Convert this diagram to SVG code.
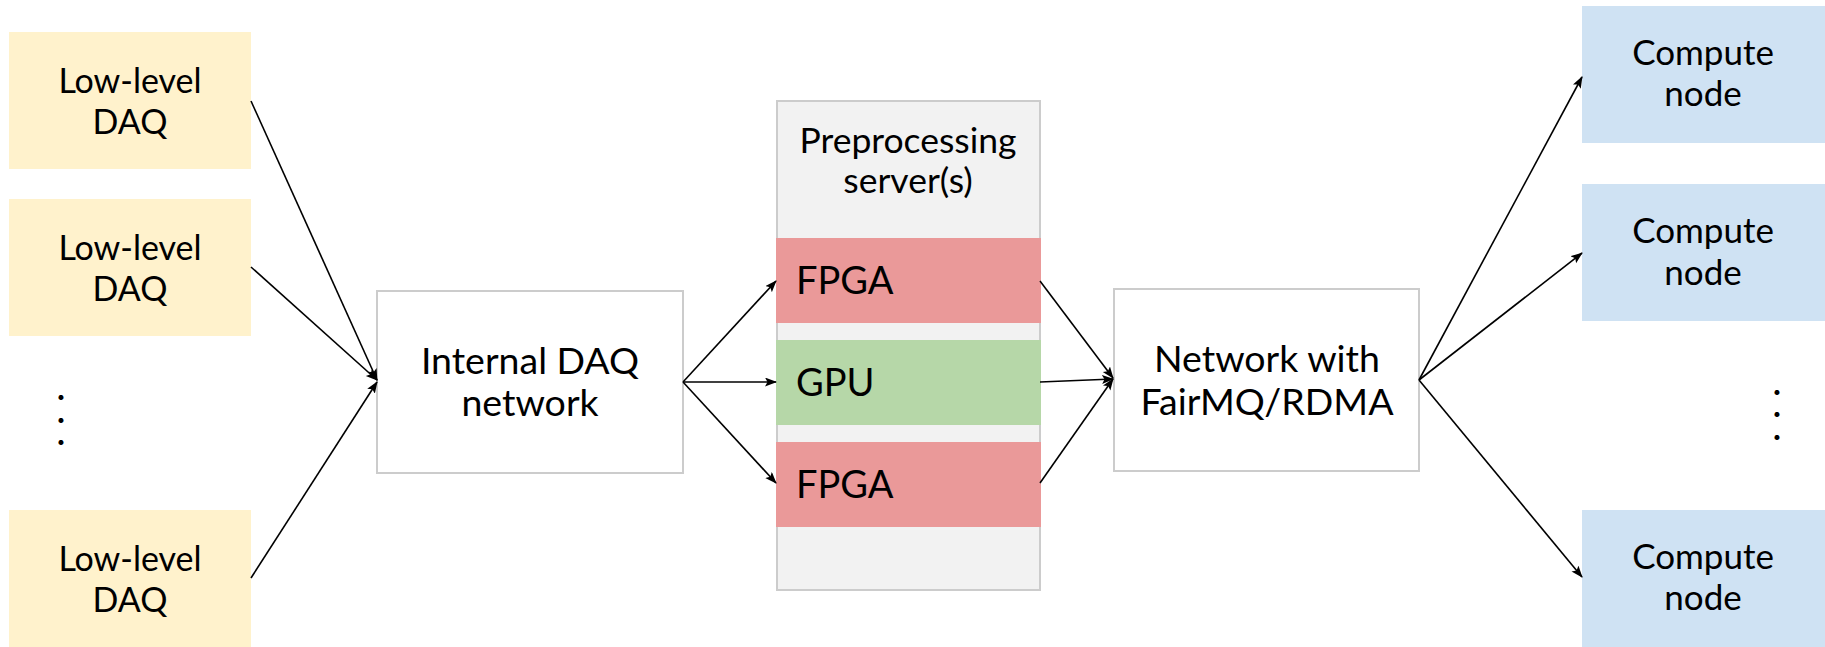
<svg xmlns="http://www.w3.org/2000/svg" width="1825" height="647" viewBox="0 0 1825 647">
<defs>
<marker id="ah" markerWidth="12" markerHeight="10" refX="11" refY="4.5" orient="auto" markerUnits="userSpaceOnUse">
<path d="M0,0 L12,4.5 L0,9 L2.5,4.5 Z" fill="#000"/>
</marker>
</defs>
<style>
text{font-family:Lato,"Open Sans","Liberation Sans",sans-serif;font-size:34px;fill:#000}
.c{text-anchor:middle}
.daq{fill:#fff2cc}
.cn{fill:#cfe2f3}
.box{fill:#fff;stroke:#cccccc;stroke-width:2}
.srv{fill:#f2f2f2;stroke:#cccccc;stroke-width:2}
.fpga{fill:#ea9999}
.gpu{fill:#b6d7a8}
.big{font-size:38px}
.mid{font-size:37.5px}
.cmp{font-size:35px}
.pre{font-size:35.5px}
.dot{font-size:40px}
#connectors line{stroke:#000;stroke-width:1.6;marker-end:url(#ah)}
</style>
<g id="daq1"><rect class="daq" x="9" y="32" width="242" height="137"/><text class="c" x="130" y="93">Low-level</text><text class="c" x="130" y="134">DAQ</text></g>
<g id="daq2"><rect class="daq" x="9" y="199" width="242" height="137"/><text class="c" x="130" y="260">Low-level</text><text class="c" x="130" y="301">DAQ</text></g>
<g id="daq-dots"><text class="dot c"><tspan x="61" y="400">.</tspan><tspan x="61" y="423">.</tspan><tspan x="61" y="445">.</tspan></text></g>
<g id="daq3"><rect class="daq" x="9" y="510" width="242" height="137"/><text class="c" x="130" y="571">Low-level</text><text class="c" x="130" y="612">DAQ</text></g>
<g id="internal"><rect class="box" x="377" y="291" width="306" height="182"/><text class="c mid" x="530" y="374">Internal DAQ</text><text class="c mid" x="530" y="416">network</text></g>
<g id="server"><rect class="srv" x="777" y="101" width="263" height="489"/><text class="c pre" x="908" y="153">Preprocessing</text><text class="c pre" x="908" y="193">server(s)</text>
<rect class="fpga" x="776" y="238" width="265" height="85"/><text class="big" x="796" y="294">FPGA</text>
<rect class="gpu" x="776" y="340" width="265" height="85"/><text class="big" x="796" y="396">GPU</text>
<rect class="fpga" x="776" y="442" width="265" height="85"/><text class="big" x="796" y="498">FPGA</text></g>
<g id="network"><rect class="box" x="1114" y="289" width="305" height="182"/><text class="c mid" x="1267" y="372">Network with</text><text class="c mid" x="1267" y="415">FairMQ/RDMA</text></g>
<g id="cn1"><rect class="cn" x="1582" y="6" width="243" height="137"/><text class="c cmp" x="1703" y="65">Compute</text><text class="c cmp" x="1703" y="106">node</text></g>
<g id="cn2"><rect class="cn" x="1582" y="184" width="243" height="137"/><text class="c cmp" x="1703" y="243">Compute</text><text class="c cmp" x="1703" y="285">node</text></g>
<g id="cn-dots"><text class="dot c"><tspan x="1777" y="395">.</tspan><tspan x="1777" y="417">.</tspan><tspan x="1777" y="440">.</tspan></text></g>
<g id="cn3"><rect class="cn" x="1582" y="510" width="243" height="137"/><text class="c cmp" x="1703" y="569">Compute</text><text class="c cmp" x="1703" y="610">node</text></g>
<g id="connectors">
<line x1="251" y1="101" x2="377" y2="380"/>
<line x1="251" y1="267" x2="377" y2="380"/>
<line x1="251" y1="578" x2="377" y2="382"/>
<line x1="683" y1="382" x2="776" y2="281"/>
<line x1="683" y1="382" x2="776" y2="382"/>
<line x1="683" y1="382" x2="776" y2="483"/>
<line x1="1040" y1="281" x2="1113" y2="378"/>
<line x1="1040" y1="382" x2="1113" y2="379"/>
<line x1="1040" y1="483" x2="1113" y2="379"/>
<line x1="1419" y1="380" x2="1582" y2="77"/>
<line x1="1419" y1="380" x2="1582" y2="253"/>
<line x1="1419" y1="380" x2="1582" y2="577"/>
</g>
</svg>
